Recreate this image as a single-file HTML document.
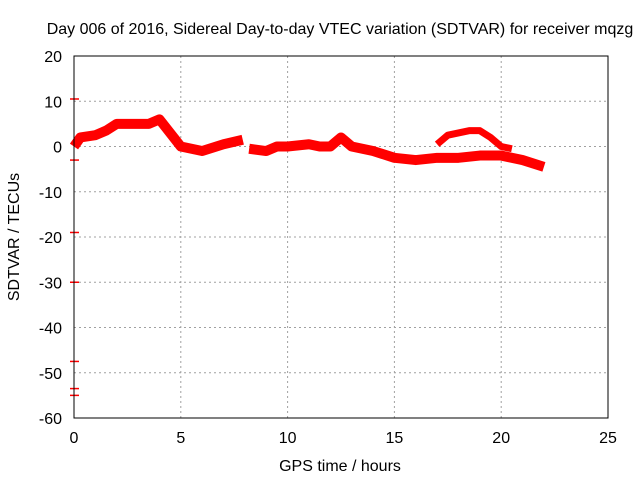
<!DOCTYPE html>
<html><head><meta charset="utf-8"><style>
body{margin:0;background:#fff}
svg text{font-family:"Liberation Sans",sans-serif;font-size:16px;fill:#000}
</style></head><body>
<svg width="640" height="480">
<g id="grid"></g>
<g id="ticks"></g>
<g id="series"></g>
<rect x="74" y="56" width="534" height="362" fill="none" stroke="#000" stroke-width="1"/>
<text x="340" y="34" text-anchor="middle">Day 006 of 2016, Sidereal Day-to-day VTEC variation (SDTVAR) for receiver mqzg</text>
<text x="340" y="471" text-anchor="middle">GPS time / hours</text>
<text x="19" y="237" text-anchor="middle" transform="rotate(-90 19 237)">SDTVAR / TECUs</text>
</svg>
<script>
const xTicks=[0,5,10,15,20,25];
const yTicks=[20,10,0,-10,-20,-30,-40,-50,-60];
const mainHours=[0,0.3,1,1.5,2,3,3.5,4,5,5.5,6,7,7.9];
const mainVals=[0,2,2.5,3.5,5,5,5,6,0,-0.5,-1,0.5,1.5];
const midHours=[8.2,9,9.5,10,11,11.5,12,12.5,13,14,15,16,17,18,19,20,21,22];
const midVals=[-0.5,-1,0,0,0.5,0,0,2,0,-1,-2.5,-3,-2.5,-2.5,-2,-2,-3,-4.5];
const arcHours=[17,17.5,18.5,19,19.5,20,20.5];
const arcVals=[0.5,2.5,3.5,3.5,2,0,-0.5];
const outlierVals=[10.5,-3,-19,-30,-47.5,-53.5,-55];
const X=h=>74+h*534/25, Y=v=>56+(20-v)*362/80;
const NS='http://www.w3.org/2000/svg';
function mk(t,a,p){const e=document.createElementNS(NS,t);for(const k in a)e.setAttribute(k,a[k]);document.getElementById(p).appendChild(e);return e;}
xTicks.forEach(t=>{
 if(t>0&&t<25){const g=mk('line',{x1:X(t),x2:X(t),y1:56,y2:418,stroke:'#a0a0a0','stroke-dasharray':'2,3'},'grid');
 
 }
 const l=mk('text',{x:X(t),y:443,'text-anchor':'middle'},'ticks');l.textContent=t;
 
 
});
yTicks.forEach(t=>{
 if(t<20&&t>-60){const g=mk('line',{x1:74,x2:608,y1:Y(t),y2:Y(t),stroke:'#a0a0a0','stroke-dasharray':'2,3'},'grid');
 
 }
 const l=mk('text',{x:62,y:Y(t)+6,'text-anchor':'end'},'ticks');l.textContent=t;
 
 
});
function trace(hs,vs,w,name){
 const p=mk('polyline',{points:hs.map((h,i)=>X(h)+','+Y(vs[i])).join(' '),fill:'none',stroke:'#f00','stroke-width':w,'stroke-linejoin':'round','stroke-linecap':'butt'},'series');
 
 
}
trace(mainHours,mainVals,10,'trace-main');
trace(midHours,midVals,10,'trace-mid');
trace(arcHours,arcVals,7,'trace-arc');
outlierVals.forEach(v=>{
 const m=mk('line',{x1:70,x2:79,y1:Y(v),y2:Y(v),stroke:'#f00','stroke-width':1.5},'series');
 
 
});
</script>
</body></html>
